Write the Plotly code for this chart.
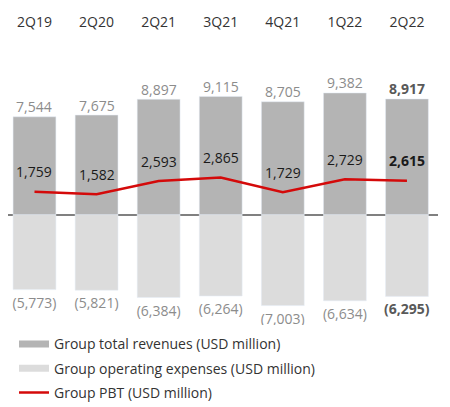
import plotly.graph_objects as go

quarters = ["2Q19", "2Q20", "2Q21", "3Q21", "4Q21", "1Q22", "2Q22"]
revenues = [7544, 7675, 8897, 9115, 8705, 9382, 8917]
expenses = [-5773, -5821, -6384, -6264, -7003, -6634, -6295]
pbt = [1759, 1582, 2593, 2865, 1729, 2729, 2615]

REV_COLOR = "#b4b4b4"
EXP_COLOR = "#dcdcdc"
PBT_COLOR = "#d40a0a"
LABEL_GREY = "#8c8c8c"
LABEL_BOLD = "#595959"
FONT = "Open Sans"


def fmt(v, bold=False):
    s = f"{v:,}" if v >= 0 else f"({abs(v):,})"
    return f"<b>{s}</b>" if bold else s


last = len(quarters) - 1
exp_text = [fmt(v, i == last) for i, v in enumerate(expenses)]
label_colors = [LABEL_BOLD if i == last else LABEL_GREY for i in range(len(quarters))]

fig = go.Figure()

fig.add_trace(go.Bar(
    x=quarters, y=revenues, marker_color=REV_COLOR,
    showlegend=False, hoverinfo="skip"
))
fig.add_trace(go.Bar(
    x=quarters, y=expenses, marker_color=EXP_COLOR,
    text=exp_text, textposition="outside", constraintext="none",
    textfont=dict(color=label_colors, size=14, family=FONT),
    showlegend=False, hoverinfo="skip"
))
fig.add_trace(go.Scatter(
    x=quarters, y=pbt, mode="lines",
    line=dict(color=PBT_COLOR, width=2.5),
    showlegend=False, hoverinfo="skip"
))

# legend entries drawn as wide swatches
legend_items = [
    ("Group total revenues (USD million)", REV_COLOR, 7),
    ("Group operating expenses (USD million)", EXP_COLOR, 7),
    ("Group PBT (USD million)", PBT_COLOR, 2.5),
]
for i, (name, color, w) in enumerate(legend_items):
    fig.add_trace(go.Scatter(
        x=[None], y=[None], mode="lines", name=name,
        line=dict(color=color, width=w), legendgroup=str(i)
    ))

# revenue labels just above the bars
for i, (q, v) in enumerate(zip(quarters, revenues)):
    fig.add_annotation(
        x=q, y=v, text=fmt(v, i == last), showarrow=False,
        yshift=10, font=dict(size=14, color=label_colors[i], family=FONT)
    )

# PBT labels above the line
for i, (q, v) in enumerate(zip(quarters, pbt)):
    fig.add_annotation(
        x=q, y=v, text=fmt(v, i == last), showarrow=False,
        yshift=20, font=dict(size=14, color="#1a1a1a", family=FONT)
    )

fig.update_layout(
    width=442, height=399,
    margin=dict(l=0, r=11.8, t=25, b=81.5, autoexpand=False),
    plot_bgcolor="white", paper_bgcolor="white",
    barmode="relative", bargap=0.31,
    font=dict(family=FONT, size=14, color="#333333"),
    legend=dict(
        xref="container", yref="container", x=0.0136, y=0.197,
        xanchor="left", yanchor="top",
        font=dict(size=14, color="#333333", family=FONT),
        tracegroupgap=3, itemwidth=30, bgcolor="rgba(0,0,0,0)"
    ),
)
fig.update_xaxes(
    side="top", showline=False, ticks="", showgrid=False, tickangle=0,
    range=[-0.4267, 6.5], ticklabelstandoff=2,
    tickfont=dict(size=14, color="#333333", family=FONT)
)
fig.update_yaxes(
    range=[-8500, 14000], showticklabels=False, showgrid=False,
    zeroline=True, zerolinecolor="#808080", zerolinewidth=1.5,
    layer="above traces"
)

fig.write_html("out.html")
